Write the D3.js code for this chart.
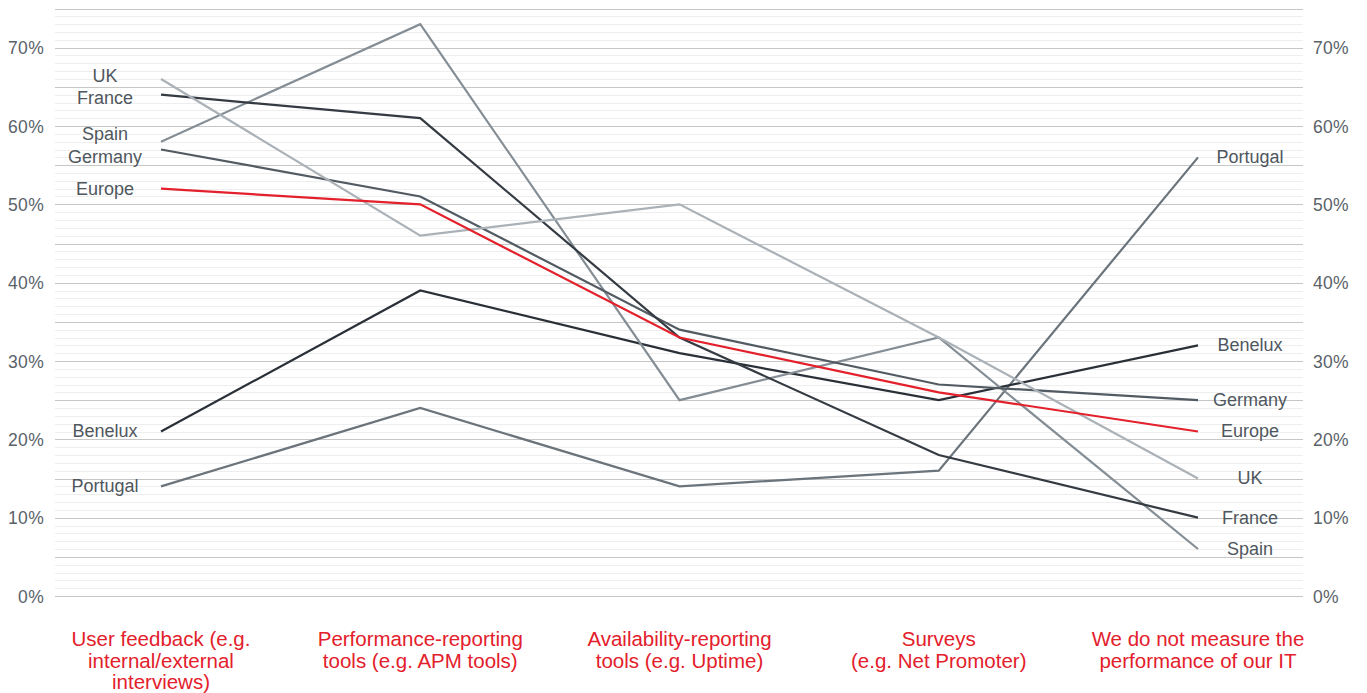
<!DOCTYPE html>
<html>
<head>
<meta charset="utf-8">
<script src="https://cdn.jsdelivr.net/npm/d3@7"></script>
<style>
  html, body { margin: 0; padding: 0; background: #fff; }
  svg { display: block; }
  text { font-family: "Liberation Sans", Arial, sans-serif; }
</style>
</head>
<body>
<svg id="chart" width="1367" height="693"></svg>
<script>
// Methods used to measure IT performance, share of respondents by region
const categories = [
  ["User feedback (e.g.", "internal/external", "interviews)"],
  ["Performance-reporting", "tools (e.g. APM tools)"],
  ["Availability-reporting", "tools (e.g. Uptime)"],
  ["Surveys", "(e.g. Net Promoter)"],
  ["We do not measure the", "performance of our IT"]
];
const seriesNames = ["Portugal", "Benelux", "Spain", "Germany", "France", "UK", "Europe"];
const europe   = [52, 50, 33, 26, 21];
const uk       = [66, 46, 50, 33, 15];
const france   = [64, 61, 33, 18, 10];
const spain    = [58, 73, 25, 33, 6];
const germany  = [57, 51, 34, 27, 25];
const benelux  = [21, 39, 31, 25, 32];
const portugal = [14, 24, 14, 16, 56];
const yTicks = [0, 10, 20, 30, 40, 50, 60, 70];

const seriesValues = {
  Europe: europe, UK: uk, France: france, Spain: spain,
  Germany: germany, Benelux: benelux, Portugal: portugal
};
const seriesColor = {
  Europe: "#e3202b",
  UK: "#aab1b7",
  France: "#353b42",
  Spain: "#858e95",
  Germany: "#525a62",
  Benelux: "#2a3037",
  Portugal: "#6b747b"
};

const svg = d3.select("#chart");
const gridLeft = 55, gridRight = 1303;

const x = d3.scalePoint()
  .domain(d3.range(categories.length))
  .range([161, 1198]);
const y = d3.scaleLinear().domain([0, 75]).range([596, 8.5]);

// Background grid: faint line every 1%, stronger every 5%
const grid = svg.append("g");
grid.selectAll("line.minor")
  .data(d3.range(0, 76, 1).filter(v => v % 5 !== 0))
  .join("line")
  .attr("x1", gridLeft).attr("x2", gridRight)
  .attr("y1", d => Math.round(y(d)) + 0.5).attr("y2", d => Math.round(y(d)) + 0.5)
  .attr("stroke", "#eeeeee").attr("stroke-width", 1.2);
grid.selectAll("line.major")
  .data(d3.range(0, 76, 5))
  .join("line")
  .attr("x1", gridLeft).attr("x2", gridRight)
  .attr("y1", d => Math.round(y(d)) + 0.5).attr("y2", d => Math.round(y(d)) + 0.5)
  .attr("stroke", "#c6c6c6").attr("stroke-width", 1.2);

// Percentage axes on both sides
const fmt = d => d + "%";
const leftAxis = svg.append("g")
  .attr("transform", `translate(${gridLeft - 11},0)`)
  .call(d3.axisLeft(y).tickValues(yTicks).tickFormat(fmt).tickSize(0).tickPadding(0));
const rightAxis = svg.append("g")
  .attr("transform", `translate(${gridRight + 10},0)`)
  .call(d3.axisRight(y).tickValues(yTicks).tickFormat(fmt).tickSize(0).tickPadding(0));
[leftAxis, rightAxis].forEach(a => {
  a.select(".domain").remove();
  a.selectAll("text")
    .attr("fill", "#5a6269")
    .style("font-size", "17.5px")
    .style("letter-spacing", "0.3px")
    .attr("dy", "0.36em");
});

// Series lines
const line = d3.line().x((d, i) => x(i)).y(d => y(d));
svg.append("g").selectAll("path")
  .data(seriesNames)
  .join("path")
  .attr("d", n => line(seriesValues[n]))
  .attr("fill", "none")
  .attr("stroke", n => seriesColor[n])
  .attr("stroke-width", 2.2)
  .attr("stroke-linejoin", "miter");

// End labels, spread apart vertically where they would collide
function spread(items, gap) {
  items.sort((a, b) => a.y - b.y);
  for (let iter = 0; iter < 200; iter++) {
    let moved = false;
    for (let i = 1; i < items.length; i++) {
      const d = items[i].y - items[i - 1].y;
      if (d < gap) {
        const shift = (gap - d) / 2;
        items[i - 1].y -= shift;
        items[i].y += shift;
        moved = true;
      }
    }
    if (!moved) break;
  }
  return items;
}
function drawLabels(index, cx) {
  const items = seriesNames.map(n => ({ name: n, y: y(seriesValues[n][index]) }));
  spread(items, 22.5);
  svg.append("g").selectAll("text")
    .data(items)
    .join("text")
    .attr("x", cx)
    .attr("y", d => d.y)
    .attr("dy", "0.33em")
    .attr("text-anchor", "middle")
    .attr("fill", "#4f575e")
    .style("font-size", "18px")
    .text(d => d.name);
}
drawLabels(0, 105);
drawLabels(categories.length - 1, 1250);

// Category labels
const cat = svg.append("g").selectAll("text")
  .data(categories)
  .join("text")
  .attr("x", (d, i) => x(i))
  .attr("y", 646)
  .attr("text-anchor", "middle")
  .attr("fill", "#e3202b")
  .style("font-size", "20.5px");
cat.selectAll("tspan")
  .data(d => d)
  .join("tspan")
  .attr("x", function () { return this.parentNode.getAttribute("x"); })
  .attr("dy", (d, i) => i === 0 ? 0 : 21.5)
  .text(d => d);
</script>
</body>
</html>
